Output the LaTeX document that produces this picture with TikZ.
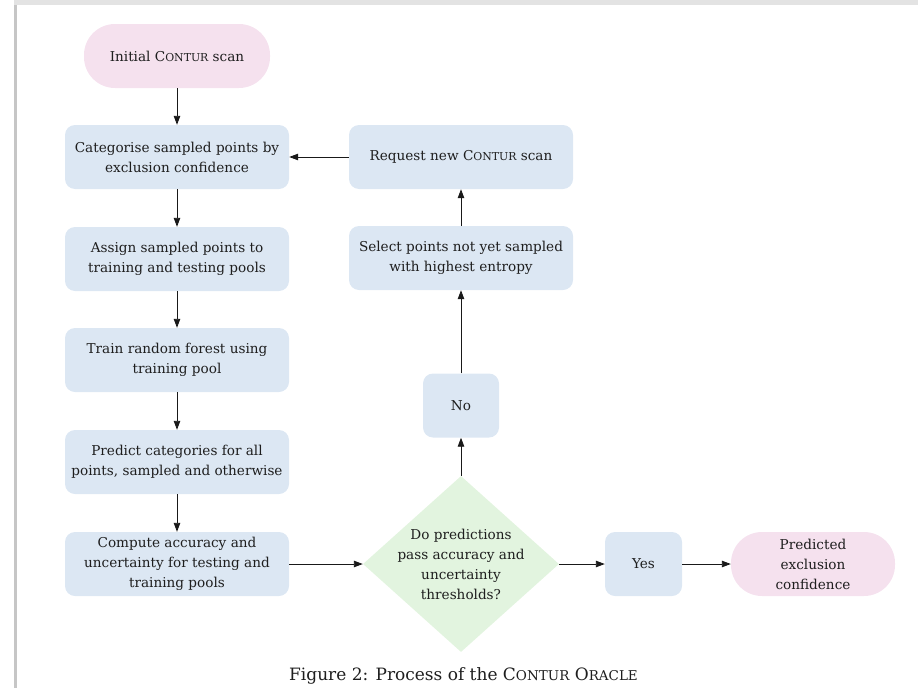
\documentclass[tikz,border=0pt]{standalone}
\usepackage{fontspec}
\setmainfont{DejaVu Serif}
\usetikzlibrary{arrows.meta,shapes.geometric}
\definecolor{boxblue}{HTML}{DCE7F3}
\definecolor{boxpink}{HTML}{F5E1EE}
\definecolor{boxgreen}{HTML}{E2F4DF}
\definecolor{txt}{HTML}{1E1E1E}
\newcommand{\fsc}[1]{{\fontsize{10.9}{12}\selectfont #1}}
\newcommand{\capsc}[1]{{\fontsize{13.5}{16}\selectfont #1}}
\tikzset{
  proc/.style={fill=boxblue, rounded corners=10pt, align=center, minimum width=224pt, minimum height=64pt, inner sep=0pt, text=txt},
  term/.style={fill=boxpink, rounded corners=31pt, align=center, minimum height=64pt, inner sep=0pt, text=txt},
  decision/.style={diamond, fill=boxgreen, minimum width=196pt, minimum height=176pt, inner sep=0pt},
  arr/.style={-{Triangle[length=9pt,width=6.5pt]}, line width=0.9pt, draw=black!90},
}
\begin{document}
\begin{tikzpicture}[x=1pt,y=-1pt, font=\fontsize{13.6}{20}\selectfont]
\useasboundingbox (0,0) rectangle (918,688);
% page edge
\fill[gray!22] (14,0) rectangle (918,4.5);
\fill[gray!45] (14,4.5) rectangle (16.5,688);
% nodes
\node[term, minimum width=186pt] (init) at (177,56) {Initial C\fsc{ONTUR} scan};
\node[proc] (cat) at (177,157) {Categorise sampled points by\\exclusion confidence};
\node[proc] (ass) at (177,259) {Assign sampled points to\\training and testing pools};
\node[proc] (train) at (177,360) {Train random forest using\\training pool};
\node[proc] (pred) at (177,462) {Predict categories for all\\points, sampled and otherwise};
\node[proc] (comp) at (177,564) {Compute accuracy and\\uncertainty for testing and\\training pools};
\node[proc] (req) at (461,157) {Request new C\fsc{ONTUR} scan};
\node[proc] (sel) at (461,258) {Select points not yet sampled\\with highest entropy};
\node[proc, minimum width=76pt] (no) at (461,405.5) {No};
\node[decision] (dec) at (461,564) {};
\node[align=center, text=txt] (dect) at (dec.center) {Do predictions\\pass accuracy and\\uncertainty\\thresholds?};
\node[proc, minimum width=77pt] (yes) at (643.5,564) {Yes};
\node[term, minimum width=164pt] (out) at (813,564) {Predicted\\exclusion\\confidence};
% caption
\node[text=txt, font=\fontsize{17}{20}\selectfont] (cap) at (463.5,676) {Figure 2: Process of the C\capsc{ONTUR} O\capsc{RACLE}};
% arrows
\draw[arr] (init) -- (cat);
\draw[arr] (cat) -- (ass);
\draw[arr] (ass) -- (train);
\draw[arr] (train) -- (pred);
\draw[arr] (pred) -- (comp);
\draw[arr] (comp) -- (dec);
\draw[arr] (dec) -- (yes);
\draw[arr] (yes) -- (out);
\draw[arr] (dec) -- (no);
\draw[arr] (no) -- (sel);
\draw[arr] (sel) -- (req);
\draw[arr] (req) -- (cat);
\end{tikzpicture}
\end{document}
